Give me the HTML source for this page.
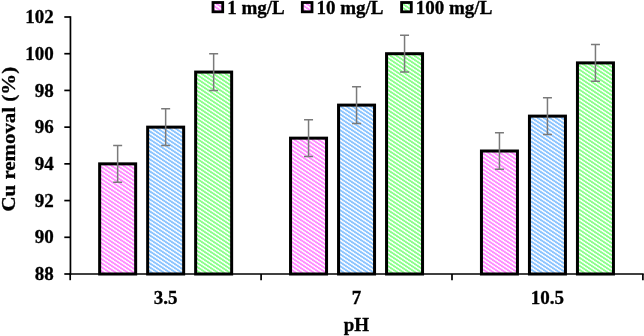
<!DOCTYPE html>
<html><head><meta charset="utf-8"><title>chart</title>
<style>
html,body{margin:0;padding:0;background:#fff;}
body{width:644px;height:336px;overflow:hidden;}
svg{display:block;}
text{font-family:"Liberation Serif",serif;font-weight:bold;font-size:19px;fill:#000;stroke:#000;stroke-width:0.3px;}
svg{will-change:transform;}
</style></head><body>
<svg width="644" height="336" viewBox="0 0 644 336">
<defs>
<pattern id="p" patternUnits="userSpaceOnUse" width="6.0" height="4.0"><rect width="6.0" height="4.0" fill="#fff6ff"/><rect x="0.000" y="0.000" width="3.240" height="1.000" fill="#ff8eff"/><rect x="-6.000" y="0.000" width="3.240" height="1.000" fill="#ff8eff"/><rect x="1.500" y="1.000" width="3.240" height="1.000" fill="#ff8eff"/><rect x="-4.500" y="1.000" width="3.240" height="1.000" fill="#ff8eff"/><rect x="3.000" y="2.000" width="3.240" height="1.000" fill="#ff8eff"/><rect x="-3.000" y="2.000" width="3.240" height="1.000" fill="#ff8eff"/><rect x="4.500" y="3.000" width="3.240" height="1.000" fill="#ff8eff"/><rect x="-1.500" y="3.000" width="3.240" height="1.000" fill="#ff8eff"/></pattern>
<pattern id="b" patternUnits="userSpaceOnUse" width="6.0" height="4.0"><rect width="6.0" height="4.0" fill="#f6faff"/><rect x="0.000" y="0.000" width="3.240" height="1.000" fill="#8ec6ff"/><rect x="-6.000" y="0.000" width="3.240" height="1.000" fill="#8ec6ff"/><rect x="1.500" y="1.000" width="3.240" height="1.000" fill="#8ec6ff"/><rect x="-4.500" y="1.000" width="3.240" height="1.000" fill="#8ec6ff"/><rect x="3.000" y="2.000" width="3.240" height="1.000" fill="#8ec6ff"/><rect x="-3.000" y="2.000" width="3.240" height="1.000" fill="#8ec6ff"/><rect x="4.500" y="3.000" width="3.240" height="1.000" fill="#8ec6ff"/><rect x="-1.500" y="3.000" width="3.240" height="1.000" fill="#8ec6ff"/></pattern>
<pattern id="g" patternUnits="userSpaceOnUse" width="6.0" height="4.0"><rect width="6.0" height="4.0" fill="#f6fff6"/><rect x="0.000" y="0.000" width="3.240" height="1.000" fill="#8eff8e"/><rect x="-6.000" y="0.000" width="3.240" height="1.000" fill="#8eff8e"/><rect x="1.500" y="1.000" width="3.240" height="1.000" fill="#8eff8e"/><rect x="-4.500" y="1.000" width="3.240" height="1.000" fill="#8eff8e"/><rect x="3.000" y="2.000" width="3.240" height="1.000" fill="#8eff8e"/><rect x="-3.000" y="2.000" width="3.240" height="1.000" fill="#8eff8e"/><rect x="4.500" y="3.000" width="3.240" height="1.000" fill="#8eff8e"/><rect x="-1.500" y="3.000" width="3.240" height="1.000" fill="#8eff8e"/></pattern>
</defs>
<rect width="644" height="336" fill="#fff"/>

<rect x="99.65" y="163.86" width="36.0" height="110.14" fill="url(#p)" stroke="#000" stroke-width="3"/>
<rect x="147.65" y="127.14" width="36.0" height="146.86" fill="url(#b)" stroke="#000" stroke-width="3"/>
<rect x="195.65" y="72.07" width="36.0" height="201.93" fill="url(#g)" stroke="#000" stroke-width="3"/>
<rect x="290.55" y="138.16" width="36.0" height="135.84" fill="url(#p)" stroke="#000" stroke-width="3"/>
<rect x="338.55" y="105.11" width="36.0" height="168.89" fill="url(#b)" stroke="#000" stroke-width="3"/>
<rect x="386.55" y="53.71" width="36.0" height="220.29" fill="url(#g)" stroke="#000" stroke-width="3"/>
<rect x="481.45" y="151.01" width="36.0" height="122.99" fill="url(#p)" stroke="#000" stroke-width="3"/>
<rect x="529.45" y="116.13" width="36.0" height="157.87" fill="url(#b)" stroke="#000" stroke-width="3"/>
<rect x="577.45" y="62.89" width="36.0" height="211.11" fill="url(#g)" stroke="#000" stroke-width="3"/>
<g stroke="#000" stroke-width="1.7" fill="none">
<path d="M70.45 16.15 V274.85"/>
<path d="M69.35 274.0 H643.75"/>
<path d="M64.30 274.00 H70.45"/>
<path d="M64.30 237.29 H70.45"/>
<path d="M64.30 200.57 H70.45"/>
<path d="M64.30 163.86 H70.45"/>
<path d="M64.30 127.14 H70.45"/>
<path d="M64.30 90.43 H70.45"/>
<path d="M64.30 53.71 H70.45"/>
<path d="M64.30 17.00 H70.45"/>
<path d="M70.20 274.0 V280.2"/>
<path d="M261.10 274.0 V280.2"/>
<path d="M452.00 274.0 V280.2"/>
<path d="M642.90 274.0 V280.2"/>
</g>
<g stroke="#7a7a7a" stroke-width="1.5" fill="none">
<path d="M117.65 145.50 V182.21 M113.15 145.50 h9 M113.15 182.21 h9"/>
<path d="M165.65 108.79 V145.50 M161.15 108.79 h9 M161.15 145.50 h9"/>
<path d="M213.65 53.71 V90.43 M209.15 53.71 h9 M209.15 90.43 h9"/>
<path d="M308.55 119.80 V156.51 M304.05 119.80 h9 M304.05 156.51 h9"/>
<path d="M356.55 86.76 V123.47 M352.05 86.76 h9 M352.05 123.47 h9"/>
<path d="M404.55 35.36 V72.07 M400.05 35.36 h9 M400.05 72.07 h9"/>
<path d="M499.45 132.65 V169.36 M494.95 132.65 h9 M494.95 169.36 h9"/>
<path d="M547.45 97.77 V134.49 M542.95 97.77 h9 M542.95 134.49 h9"/>
<path d="M595.45 44.54 V81.25 M590.95 44.54 h9 M590.95 81.25 h9"/>
</g>
<text x="53.8" y="280.10" text-anchor="end">88</text>
<text x="53.8" y="243.39" text-anchor="end">90</text>
<text x="53.8" y="206.67" text-anchor="end">92</text>
<text x="53.8" y="169.96" text-anchor="end">94</text>
<text x="53.8" y="133.24" text-anchor="end">96</text>
<text x="53.8" y="96.53" text-anchor="end">98</text>
<text x="53.8" y="59.81" text-anchor="end">100</text>
<text x="53.8" y="23.10" text-anchor="end">102</text>
<text x="165.65" y="303.8" text-anchor="middle">3.5</text>
<text x="356.55" y="303.8" text-anchor="middle">7</text>
<text x="547.45" y="303.8" text-anchor="middle">10.5</text>
<text x="356.4" y="331.2" text-anchor="middle">pH</text>
<text transform="translate(14.9 139.2) rotate(-90) scale(1.10 1)" text-anchor="middle">Cu removal (%)</text>
<rect x="213.00" y="2.5" width="9.7" height="9.3" fill="url(#p)" stroke="#000" stroke-width="2.8"/>
<text x="227.20" y="13.5">1 mg/L</text>
<rect x="302.30" y="2.5" width="9.7" height="9.3" fill="url(#p)" stroke="#000" stroke-width="2.8"/>
<text x="316.50" y="13.5">10 mg/L</text>
<rect x="401.60" y="2.5" width="9.7" height="9.3" fill="url(#g)" stroke="#000" stroke-width="2.8"/>
<text x="415.80" y="13.5">100 mg/L</text>
</svg></body></html>
